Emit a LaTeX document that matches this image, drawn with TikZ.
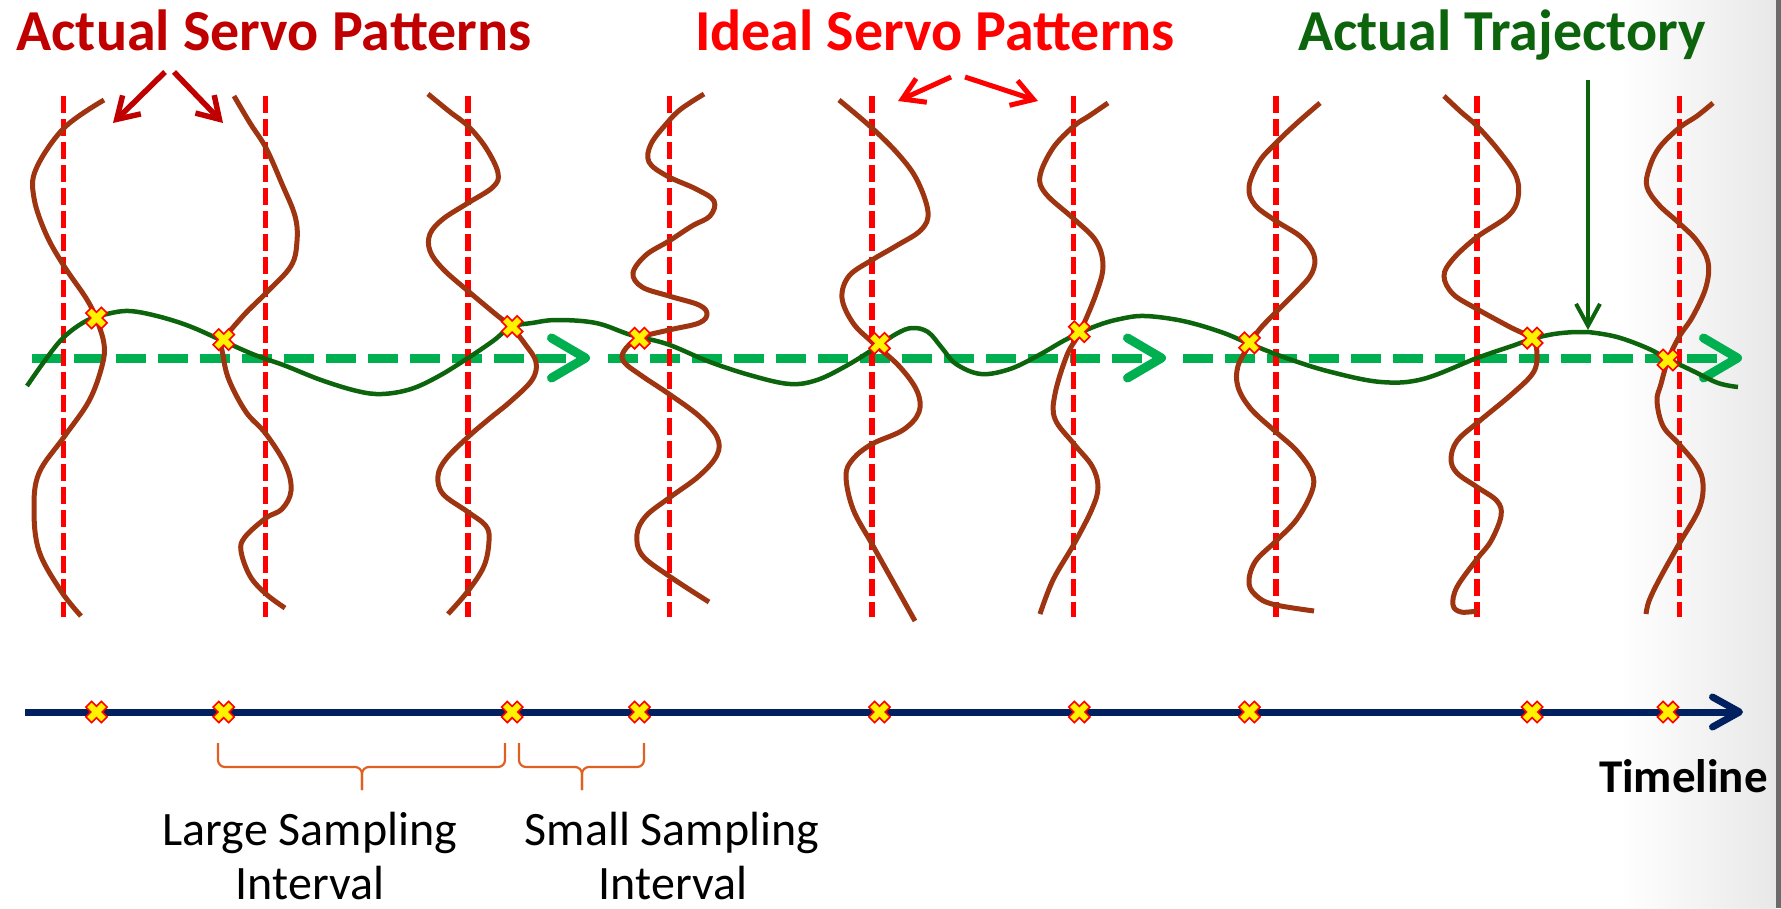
\documentclass[tikz,border=0pt]{standalone}
\usepackage{fontspec}
\setmainfont{Carlito}
\usepackage{xcolor}
\usepackage{tikz}
\usetikzlibrary{arrows.meta}
\pgfdeclarelayer{edgelayer}
\pgfdeclarelayer{nodelayer}
\pgfsetlayers{edgelayer,nodelayer,main}

\definecolor{titlered}{RGB}{192,0,0}
\definecolor{idealred}{RGB}{255,0,0}
\definecolor{trajgreen}{RGB}{12,100,12}
\definecolor{arrowgreen}{RGB}{0,176,80}
\definecolor{servobrown}{RGB}{158,52,16}
\definecolor{linenavy}{RGB}{0,32,96}
\definecolor{braceorange}{RGB}{224,96,36}

\tikzset{
  ttl/.style={font=\fontsize{58}{70}\selectfont\bfseries, inner sep=0pt, anchor=base},
  lbl/.style={font=\fontsize{48}{58}\selectfont, inner sep=0pt, anchor=base},
  ideal/.style={idealred, line width=5.5pt, dash pattern=on 17pt off 6pt},
  servo/.style={servobrown, line width=5pt},
  traj/.style={trajgreen, line width=4.5pt},
  refpath/.style={arrowgreen, line width=9pt, dash pattern=on 30pt off 12pt, -{Straight Barb[length=34pt, width=40pt, round]}},
  tline/.style={linenavy, line width=7pt, -{Straight Barb[length=27pt, width=30pt, round]}},
  callout/.style={line width=5.5pt, -{Straight Barb[length=21pt, width=26pt]}},
  brc/.style={braceorange, line width=2.2pt, rounded corners=7pt},
  smp/.style={inner sep=0pt, minimum size=24pt},
  smpx/.style={draw=idealred, fill=yellow, line width=1.6pt, line join=miter, rotate=45},
}

\newcommand{\sampmark}[2]{%
  \node [smp] (#1) at (#2) {};
  \filldraw [shift={(#1)}, smpx] (-4,11) -- (4,11) -- (4,4) -- (11,4) -- (11,-4) -- (4,-4) -- (4,-11) -- (-4,-11) -- (-4,-4) -- (-11,-4) -- (-11,4) -- (-4,4) -- cycle;
}

\begin{document}
\begin{tikzpicture}[x=1pt, y=-1pt]
  \useasboundingbox (0,0) rectangle (1781,908);
  \begin{pgfonlayer}{nodelayer}
    \node [ttl, titlered] (act) at (274,50) {Actual Servo Patterns};
    \node [ttl, idealred] (idl) at (935,50) {Ideal Servo Patterns};
    \node [ttl, trajgreen] (trj) at (1502,50) {Actual Trajectory};
    \node [ttl, font=\fontsize{47}{56}\selectfont\bfseries, anchor=base east] (tml) at (1768,792) {Timeline};
    \node [lbl] (lg1) at (310,845) {Large Sampling};
    \node [lbl] (lg2) at (310,899) {Interval};
    \node [lbl] (sm1) at (672,845) {Small Sampling};
    \node [lbl] (sm2) at (673,899) {Interval};
    \coordinate (a0) at (165,72);
    \coordinate (a1) at (113,123);
    \coordinate (a2) at (174,72);
    \coordinate (a3) at (223,123);
    \coordinate (b0) at (951,77);
    \coordinate (b1) at (898,101);
    \coordinate (b2) at (965,77);
    \coordinate (b3) at (1038,101);
    \coordinate (c0) at (1588,80);
    \coordinate (c1) at (1588,330);
    \coordinate (g0) at (32,358);
    \coordinate (g1) at (590,358);
    \coordinate (g2) at (608,358);
    \coordinate (g3) at (1166,358);
    \coordinate (g4) at (1183,358);
    \coordinate (g5) at (1742,358);
    \coordinate (t0) at (25,712);
    \coordinate (t10) at (1743,712);
    \foreach \x/\y [count=\i] in {96.5/318, 223.7/339.6, 512.2/326.5, 639.5/338.2, 879.5/343.3, 1079.3/331.7, 1249.5/342.8, 1532.1/338.1, 1668/360} {
      \sampmark{s\i}{\x,\y}
      \sampmark{t\i}{\x,712}
    }
  \end{pgfonlayer}
  \begin{pgfonlayer}{edgelayer}
    \shade [left color=white, right color=black!9] (1620,0) rectangle (1776,908);
    \fill [black!58] (1776,0) rectangle (1781,908);
    \draw [refpath] (g0) -- (g1);
    \draw [refpath] (g2) -- (g3);
    \draw [refpath] (g4) -- (g5);
    \foreach \x in {63.6, 265.4, 467.9, 669.6, 871.8, 1073.6, 1275.9, 1477.2, 1679.4}
      \draw [ideal] (\x,96) -- (\x,617);
    \draw [servo] plot [smooth, tension=0.6] coordinates {(104,100) (64,128) (36,169) (34,198) (46,234) (64,266) (86,298) (96,318) (104,344) (102,366) (89,401) (64,437) (39,473) (34,509) (39,551) (61,591) (81,616)};
    \draw [servo] plot [smooth, tension=0.6] coordinates {(234,96) (250,123) (266,148) (282,184) (295,216) (297,241) (291,266) (266,293) (243,316) (223,341) (223,355) (229,380) (246,412) (266,434) (286,466) (291,491) (282,509) (266,518) (245,537) (241,551) (250,576) (266,594) (285,608)};
    \draw [servo] plot [smooth, tension=0.6] coordinates {(428,94) (450,112) (468,126) (486,148) (498,173) (493,187) (468,203) (443,219) (430,234) (430,251) (443,269) (468,291) (493,312) (511,327) (525,344) (536,362) (532,380) (511,401) (489,419) (468,437) (446,459) (438,476) (443,494) (468,512) (486,526) (489,541) (484,566) (468,591) (448,614)};
    \draw [servo] plot [smooth, tension=0.6] coordinates {(704,94) (681,109) (667,123) (651,144) (649,162) (667,176) (696,189) (714,201) (710,216) (692,226) (669,241) (646,255) (633,273) (642,287) (669,296) (699,305) (707,314) (699,323) (669,330) (639,338) (624,351) (624,362) (642,376) (669,394) (699,416) (717,437) (717,455) (699,476) (669,498) (646,516) (637,534) (642,555) (669,576) (709,602)};
    \draw [servo] plot [smooth, tension=0.6] coordinates {(839,100) (872,128) (899,155) (917,180) (928,212) (921,230) (896,246) (872,260) (849,276) (842,298) (853,323) (872,342) (899,366) (917,391) (919,412) (903,430) (872,444) (853,459) (846,476) (853,509) (872,544) (896,587) (915,621)};
    \draw [servo] plot [smooth, tension=0.6] coordinates {(1108,103) (1089,116) (1074,126) (1053,148) (1040,176) (1046,194) (1074,219) (1096,241) (1103,266) (1096,294) (1080,332) (1067,355) (1055,394) (1055,419) (1074,444) (1092,466) (1098,487) (1092,509) (1074,544) (1053,580) (1040,614)};
    \draw [servo] plot [smooth, tension=0.6] coordinates {(1320,103) (1297,123) (1276,143) (1259,162) (1249,187) (1255,205) (1276,221) (1301,237) (1314,255) (1312,273) (1297,291) (1276,312) (1259,330) (1250,344) (1238,366) (1238,387) (1251,409) (1276,432) (1297,451) (1312,473) (1312,491) (1297,519) (1276,541) (1255,562) (1249,584) (1259,598) (1276,605) (1314,611)};
    \draw [servo] plot [smooth, tension=0.6] coordinates {(1444,96) (1461,112) (1477,126) (1499,151) (1516,176) (1518,198) (1508,216) (1477,237) (1453,259) (1444,276) (1453,294) (1477,309) (1508,326) (1532,339) (1537,355) (1533,373) (1512,394) (1477,423) (1457,441) (1451,459) (1457,473) (1477,487) (1497,501) (1501,516) (1491,541) (1477,559) (1457,587) (1453,605) (1461,612) (1477,611)};
    \draw [servo] plot [smooth, tension=0.6] coordinates {(1713,103) (1697,116) (1679,128) (1659,148) (1649,169) (1647,187) (1659,205) (1679,223) (1697,241) (1708,262) (1706,287) (1693,316) (1679,337) (1668,360) (1661,384) (1657,401) (1663,426) (1679,444) (1697,466) (1703,484) (1699,509) (1679,544) (1659,580) (1649,601) (1646,614)};
    \draw [traj] plot [smooth, tension=0.6] coordinates {(27,386) (46,359) (64,337) (86,321) (107,314) (129,311) (157,316) (189,326) (223,341) (250,353) (266,359) (286,366) (321,380) (357,391) (382,394) (411,389) (439,376) (468,358) (493,341) (511,327) (532,323) (557,320) (596,323) (631,335) (667,344) (710,362) (753,376) (790,384) (817,380) (846,366) (872,350) (896,334) (912,328) (928,332) (942,348) (956,364) (981,374) (1010,369) (1039,355) (1067,339) (1096,326) (1120,319) (1145,316) (1183,321) (1221,332) (1250,344) (1289,359) (1331,372) (1381,382) (1423,379) (1477,358) (1512,346) (1532,339) (1554,334) (1575,332) (1588,332) (1617,337) (1647,348) (1668,359) (1693,371) (1718,383) (1738,387)};
    \draw [tline] (t0) -- (t10);
    \draw [callout, titlered] (a0) -- (a1);
    \draw [callout, titlered] (a2) -- (a3);
    \draw [callout, idealred, line width=5pt] (b0) -- (b1);
    \draw [callout, idealred, line width=5pt] (b2) -- (b3);
    \draw [callout, trajgreen, line width=4pt, -{Straight Barb[length=22pt, width=24pt]}] (c0) -- (c1);
    \draw [brc] (218,743) -- (218,767) -- (362,767) -- (362,790);
    \draw [brc] (505,743) -- (505,767) -- (362,767) -- (362,790);
    \draw [brc] (519,743) -- (519,767) -- (582,767) -- (582,790);
    \draw [brc] (644,743) -- (644,767) -- (582,767) -- (582,790);
  \end{pgfonlayer}
\end{tikzpicture}
\end{document}
